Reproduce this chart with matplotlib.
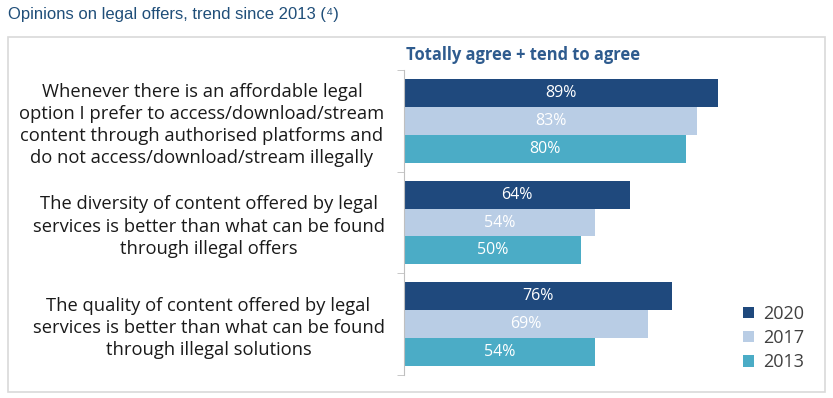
import matplotlib.pyplot as plt
from matplotlib.patches import Rectangle
import numpy as np

categories = [
    "Whenever there is an affordable legal\noption I prefer to access/download/stream\ncontent through authorised platforms and\ndo not access/download/stream illegally",
    "The diversity of content offered by legal\nservices is better than what can be found\nthrough illegal offers",
    "The quality of content offered by legal\nservices is better than what can be found\nthrough illegal solutions",
]
years = ["2020", "2017", "2013"]
v2020 = [89, 64, 76]
v2017 = [83, 54, 69]
v2013 = [80, 50, 54]
colors = ["#1f497d", "#b9cde5", "#4bacc6"]

plt.rcParams["font.family"] = ["Open Sans", "DejaVu Sans"]

fig = plt.figure(figsize=(8.33, 3.98), dpi=100)
ax = fig.add_axes([404 / 833, 1 - 375 / 398, 353 / 833, 305 / 398])

# outer frame
fig.patches.append(Rectangle((8 / 833, 1 - 392 / 398), 817 / 833, 355 / 398,
                             transform=fig.transFigure, fill=False,
                             edgecolor="#d9d9d9", linewidth=1.2))

fig.text(8 / 833, 1 - 14 / 398, "Opinions on legal offers, trend since 2013 (\u2074)",
         fontsize=12, color="#1f4e79", family=["Liberation Sans", "DejaVu Sans"],
         va="center", ha="left")
fig.text(406 / 833, 1 - 55 / 398, "Totally agree + tend to agree",
         fontsize=11.9, fontweight="bold", color="#2e5b8e", va="center", ha="left")

y = np.arange(len(categories))
h = 0.275
for i, (vals, yr) in enumerate(zip([v2020, v2017, v2013], years)):
    bars = ax.barh(y + (i - 1) * h, vals, height=h, color=colors[i], label=yr)
    ax.bar_label(bars, labels=[f"{v}%" for v in vals], label_type="center",
                 color="white", fontsize=11.5)

ax.set_xlim(0, 100)
ax.set_ylim(2.5, -0.5)
ax.set_xticks([])
ax.set_yticks(y)
ax.set_yticklabels(categories, fontsize=13.2, multialignment="center",
                   color="#1a1a1a", linespacing=1.3)
ax.tick_params(axis="y", which="major", length=0, pad=14)
ax.set_yticks([-0.5, 0.5, 1.5, 2.5], minor=True)
ax.tick_params(axis="y", which="minor", length=5, color="#bfbfbf")
for s in ["top", "right", "bottom"]:
    ax.spines[s].set_visible(False)
ax.spines["left"].set_color("#bfbfbf")

leg = fig.legend(loc="center left", bbox_to_anchor=(727 / 833, 1 - 338 / 398),
                 frameon=False, fontsize=13, handlelength=0.6, handleheight=0.6,
                 handletextpad=0.5, labelspacing=0.35)
for t in leg.get_texts():
    t.set_color("#404040")

fig.savefig("out.png", dpi=100)
